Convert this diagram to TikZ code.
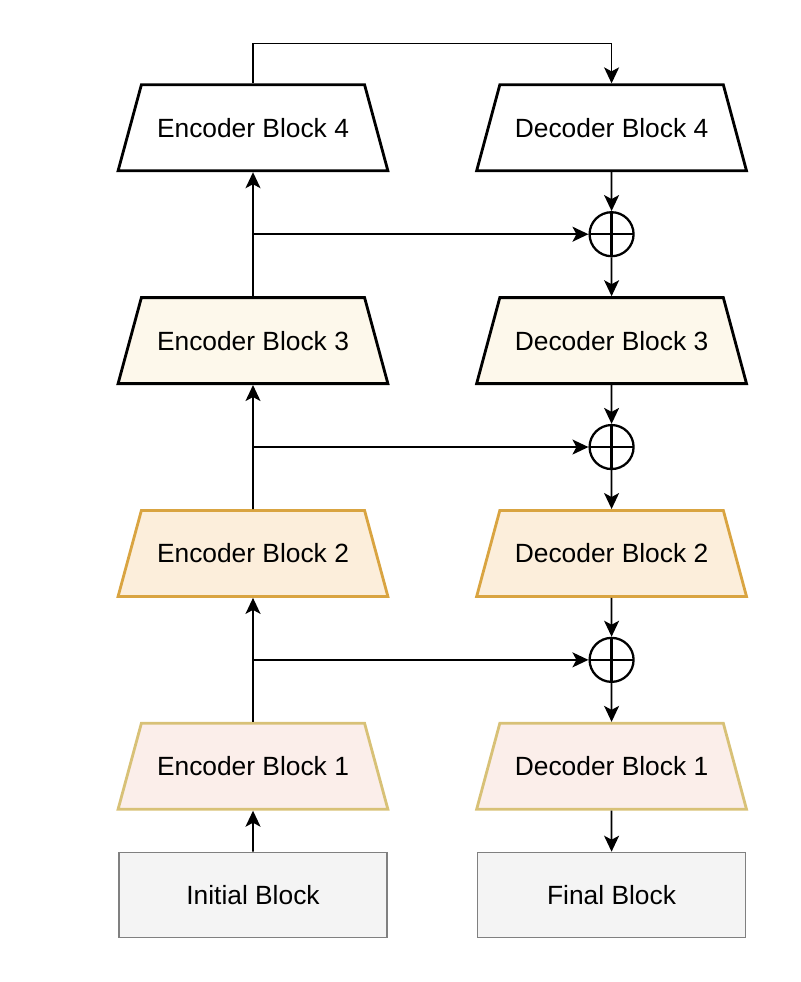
\documentclass[tikz,border=0pt]{standalone}
\usepackage{fontspec}
\setmainfont{Liberation Sans}
\usepackage{xcolor}
\usepackage{tikz}
\usetikzlibrary{shapes.geometric, positioning, arrows.meta, calc}

\definecolor{creamfill}{HTML}{FDF8EB}
\definecolor{orangefill}{HTML}{FCEEDB}
\definecolor{golddraw}{HTML}{D9A441}
\definecolor{pinkfill}{HTML}{FBEEEA}
\definecolor{paleyellow}{HTML}{D8C177}
\definecolor{greyfill}{HTML}{F4F4F4}
\definecolor{greydraw}{HTML}{808080}

\begin{document}
\begin{tikzpicture}[
    font=\fontsize{15}{18}\selectfont,
    blockshape/.style={trapezium, trapezium angle=44, trapezium stretches=true,
        minimum width=5.4cm, minimum height=1.72cm, inner sep=0pt, draw, line width=1.6pt},
    endblock/.style={rectangle, draw=greydraw, fill=greyfill, line width=0.9pt,
        minimum width=5.36cm, minimum height=1.7cm},
    sumnode/.style={circle, draw, line width=1.3pt, minimum size=0.88cm, inner sep=0pt,
        path picture={\draw[line width=1.3pt]
            (path picture bounding box.north) -- (path picture bounding box.south)
            (path picture bounding box.west) -- (path picture bounding box.east);}},
    arr/.style={-{Stealth[length=0.32cm, width=0.3cm, inset=0.08cm]}, line width=1pt}
]
    \useasboundingbox (-5.06,-1.74) rectangle (10.94,17.9);

    % encoder side
    \node[endblock] (init) {Initial Block};
    \node[blockshape, draw=paleyellow, fill=pinkfill] (enc1) [above=0.82cm of init] {Encoder Block 1};
    \node[blockshape, draw=golddraw, fill=orangefill] (enc2) [above=2.48cm of enc1] {Encoder Block 2};
    \node[blockshape, fill=creamfill] (enc3) [above=2.48cm of enc2] {Encoder Block 3};
    \node[blockshape, fill=white] (enc4) [above=2.48cm of enc3] {Encoder Block 4};

    % decoder side
    \node[endblock] (final) [right=1.78cm of init] {Final Block};
    \node[blockshape, draw=paleyellow, fill=pinkfill] (dec1) [above=0.82cm of final] {Decoder Block 1};
    \node[blockshape, draw=golddraw, fill=orangefill] (dec2) [above=2.48cm of dec1] {Decoder Block 2};
    \node[blockshape, fill=creamfill] (dec3) [above=2.48cm of dec2] {Decoder Block 3};
    \node[blockshape, fill=white] (dec4) [above=2.48cm of dec3] {Decoder Block 4};

    \node[sumnode] (s1) at ($(dec1.north)!0.5!(dec2.south)$) {};
    \node[sumnode] (s2) at ($(dec2.north)!0.5!(dec3.south)$) {};
    \node[sumnode] (s3) at ($(dec3.north)!0.5!(dec4.south)$) {};

    \draw[arr] (init) -- (enc1);
    \draw[arr] (enc1) -- (enc2);
    \draw[arr] (enc2) -- (enc3);
    \draw[arr] (enc3) -- (enc4);
    \draw[arr] (enc4.north) -- ++(0,0.8) -| (dec4.north);

    \draw[arr] (dec4) -- (s3);
    \draw[arr] (s3) -- (dec3);
    \draw[arr] (dec3) -- (s2);
    \draw[arr] (s2) -- (dec2);
    \draw[arr] (dec2) -- (s1);
    \draw[arr] (s1) -- (dec1);
    \draw[arr] (dec1) -- (final);

    % skip connections
    \draw[arr] (s1 -| enc1) -- (s1);
    \draw[arr] (s2 -| enc2) -- (s2);
    \draw[arr] (s3 -| enc3) -- (s3);
\end{tikzpicture}
\end{document}
